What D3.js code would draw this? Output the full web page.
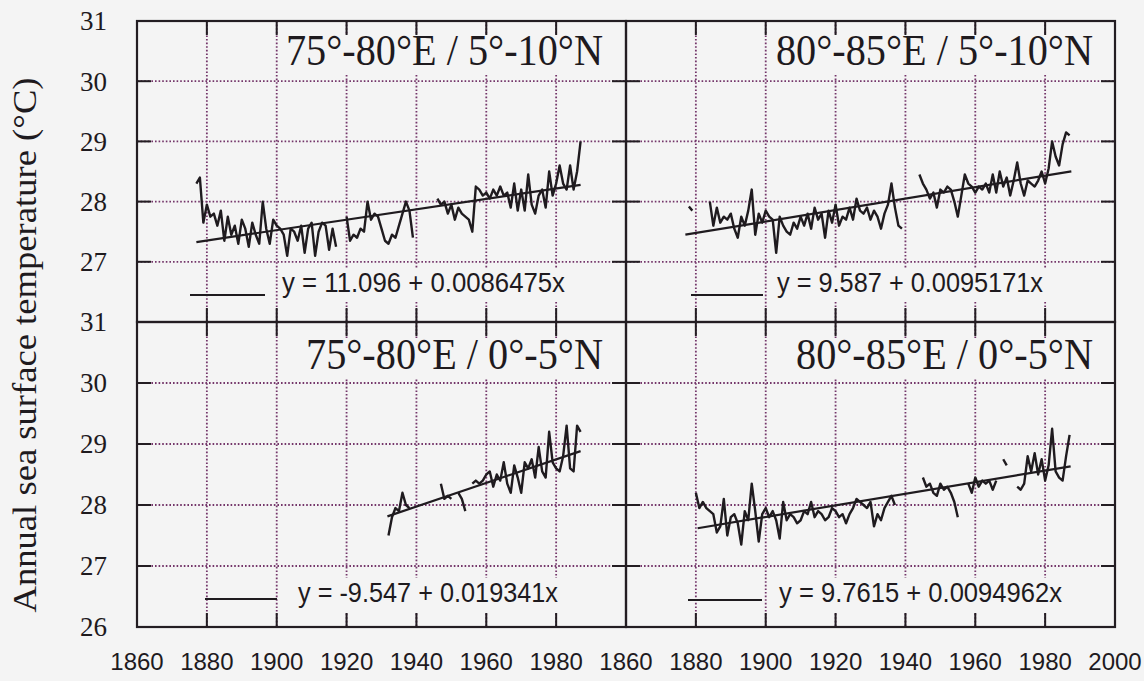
<!DOCTYPE html>
<html>
<head>
<meta charset="utf-8">
<script src="https://cdn.jsdelivr.net/npm/d3@7"></script>
<style>
  body { margin: 0; background: #f4f4f4; }
  svg { display: block; }
  .grid line { stroke: #74366a; stroke-width: 1.8; stroke-dasharray: 1.6,2; }
  .frame { fill: none; stroke: #231d22; stroke-width: 2.2; }
  .tick { stroke: #231d22; stroke-width: 2; }
  .sst { fill: none; stroke: #1f1b1f; stroke-width: 2.4; stroke-linejoin: round; }
  .fit { stroke: #1f1b1f; stroke-width: 2.2; }
</style>
</head>
<body>
<script>
var W = 1144, H = 681;
var bg = "#f4f4f4";

// tick labels
var yTicks = [26, 27, 28, 29, 30, 31];
var xTicksLeft = [1860, 1880, 1900, 1920, 1940, 1960, 1980];
var xTicksRight = [1860, 1880, 1900, 1920, 1940, 1960, 1980, 2000];
var gridYears = [1880, 1900, 1920, 1940, 1960, 1980];
var gridTemps = [27, 28, 29, 30];

var titles = ["75°-80°E / 5°-10°N", "80°-85°E / 5°-10°N", "75°-80°E / 0°-5°N", "80°-85°E / 0°-5°N"];
var equations = ["y = 11.096 + 0.0086475x", "y = 9.587 + 0.0095171x", "y = -9.547 + 0.019341x", "y = 9.7615 + 0.0094962x"];
var intercepts = [11.096, 9.587, -9.547, 9.7615];
var slopes = [0.0086475, 0.0095171, 0.019341, 0.0094962];
var fitSpans = [[1877, 1987], [1877, 1987.5], [1931.7, 1987], [1880.5, 1987.3]];

// 75-80E / 5-10N, 1877-1987
var yearsTL = d3.range(1877, 1988);
var sstTL = [28.30, 28.40, 27.65, 27.95, 27.75, 27.80, 27.60, 27.85, 27.35, 27.75,
  27.45, 27.60, 27.30, 27.70, 27.55, 27.25, 27.65, 27.45, 27.30, 28.00,
  27.55, 27.30, 27.70, 27.60, 27.55, 27.45, 27.10, 27.55, 27.50, 27.35,
  27.60, 27.15, 27.55, 27.65, 27.10, 27.50, 27.65, 27.60, 27.20, 27.55,
  27.25, null, null, 27.75, 27.35, 27.45, 27.40, 27.55, 27.50, 28.00,
  27.70, 27.80, 27.75, 27.55, 27.35, 27.30, 27.45, 27.40, 27.60, 27.80,
  28.00, 27.85, 27.40, null, null, null, null, null, null, 28.05,
  27.95, 28.00, 27.80, 27.95, 27.70, 27.90, 27.80, 27.75, 27.70, 27.50,
  28.25, 28.20, 28.10, 28.15, 28.05, 28.20, 28.10, 28.25, 28.10, 28.15,
  27.90, 28.30, 27.85, 28.20, 27.85, 28.45, 27.95, 27.80, 28.10, 28.20,
  27.90, 28.50, 28.10, 28.30, 28.60, 28.30, 28.20, 28.60, 28.20, 28.50,
  29.00];

// 80-85E / 5-10N, 1878-1987
var yearsTR = d3.range(1878, 1988);
var sstTR = [27.92, 27.85, null, null, null, null, 28.00, 27.60, 27.90, 27.65,
  27.75, 27.70, 27.80, 27.55, 27.40, 27.75, 27.60, 27.85, 28.20, 27.45,
  27.80, 27.65, 27.85, 27.75, 27.70, 27.15, 27.75, 27.60, 27.50, 27.45,
  27.65, 27.55, 27.75, 27.60, 27.80, 27.55, 27.90, 27.70, 27.80, 27.40,
  27.85, 27.65, 27.95, 27.60, 27.75, 27.70, 27.90, 27.70, 28.05, 27.85,
  27.80, 27.90, 27.70, 27.85, 27.75, 27.55, 27.80, 27.95, 28.30, 27.90,
  27.60, 27.55, null, null, null, null, 28.45, 28.30, 28.20, 28.05,
  28.15, 27.90, 28.20, 28.15, 28.25, 28.20, 28.00, 27.75, 28.10, 28.45,
  28.30, 28.25, 28.15, 28.25, 28.20, 28.30, 28.15, 28.45, 28.15, 28.50,
  28.25, 28.40, 28.10, 28.35, 28.65, 28.30, 28.10, 28.35, 28.30, 28.25,
  28.35, 28.50, 28.30, 28.55, 29.00, 28.75, 28.60, 28.95, 29.15, 29.10];

// 75-80E / 0-5N, 1932-1987
var yearsBL = d3.range(1932, 1988);
var sstBL = [27.50, 27.80, 27.95, 27.90, 28.20, 28.00, 27.95, null, null, null,
  null, null, null, null, null, 28.35, 28.10, 28.15, 28.10, null,
  28.20, 28.10, 27.90, null, 28.35, 28.40, 28.35, 28.40, 28.50, 28.55,
  28.30, 28.50, 28.40, 28.70, 28.35, 28.20, 28.65, 28.45, 28.20, 28.70,
  28.60, 28.75, 28.45, 28.95, 28.55, 28.45, 29.20, 28.70, 28.60, 28.55,
  28.80, 29.30, 28.60, 28.55, 29.30, 29.20];

// 80-85E / 0-5N, 1880-1987
var yearsBR = d3.range(1880, 1988);
var sstBR = [28.20, 27.95, 28.05, 27.95, 27.90, 27.85, 27.55, 27.65, 28.10, 27.50,
  27.80, 27.85, 27.70, 27.35, 27.90, 27.75, 28.35, 27.90, 27.40, 27.85,
  27.95, 27.80, 27.90, 27.75, 27.45, 28.05, 27.75, 27.85, 27.80, 27.70,
  27.75, 27.90, 27.85, 28.05, 27.80, 27.90, 27.85, 27.75, 27.80, 27.95,
  27.90, 27.80, 27.85, 27.70, 27.85, 27.95, 28.10, 28.05, 28.00, 27.95,
  28.05, 27.65, 27.85, 27.75, 27.95, 28.05, 28.15, 28.00, null, null,
  null, null, null, null, null, 28.45, 28.30, 28.35, 28.20, 28.15,
  28.35, 28.25, 28.30, 28.20, 28.05, 27.80, null, null, 28.35, 28.20,
  28.45, 28.30, 28.40, 28.35, 28.40, 28.25, 28.40, null, 28.75, 28.65,
  null, null, 28.30, 28.25, 28.35, 28.80, 28.55, 28.85, 28.50, 28.75,
  28.40, 28.65, 29.25, 28.55, 28.45, 28.40, 28.80, 29.15];

var seriesYears = [yearsTL, yearsTR, yearsBL, yearsBR];
var seriesSST = [sstTL, sstTR, sstBL, sstBR];

// layout
var colX = [[137, 626], [626, 1115]];
var rowY = [[21, 322], [322, 627]];
var titleEnd = [[603, 65], [1093, 65], [603, 369], [1093, 369]];
var eqPos = [[282, 292, 283], [777, 292, 266], [298, 602, 260], [779, 602, 283]];
var legendSeg = [[190, 265, 295], [691, 763, 295], [205, 277, 599], [688, 762, 600]];
var squeeze = 0.915;

var svg = d3.select("body").append("svg")
  .attr("width", W).attr("height", H)
  .style("background", bg);

svg.append("rect").attr("width", W).attr("height", H).attr("fill", bg);

var panels = d3.range(4).map(function(i) {
  return {
    i: i,
    col: i % 2,
    row: Math.floor(i / 2),
    title: titles[i],
    eq: equations[i],
    a: intercepts[i],
    b: slopes[i],
    span: fitSpans[i],
    data: seriesYears[i].map(function(yr, k) { return {year: yr, t: seriesSST[i][k]}; })
  };
});

panels.forEach(function(p) {
  var x = d3.scaleLinear().domain([1860, 2000]).range(colX[p.col]);
  var y = d3.scaleLinear().domain([26, 31]).range([rowY[p.row][1], rowY[p.row][0]]);
  var g = svg.append("g").attr("class", "panel");

  // dotted grid
  var grid = g.append("g").attr("class", "grid");
  grid.selectAll(".gx").data(gridYears).enter().append("line")
    .attr("x1", function(d) { return x(d); }).attr("x2", function(d) { return x(d); })
    .attr("y1", y(31)).attr("y2", y(26));
  grid.selectAll(".gy").data(gridTemps).enter().append("line")
    .attr("x1", x(1860)).attr("x2", x(2000))
    .attr("y1", function(d) { return y(d); }).attr("y2", function(d) { return y(d); });

  // title, right aligned, on an opaque box
  var te = titleEnd[p.i];
  var tbox = g.append("rect").attr("fill", bg);
  var tt = g.append("text")
    .attr("x", te[0]).attr("y", te[1])
    .attr("text-anchor", "end")
    .attr("font-family", "'Liberation Serif', 'Times New Roman', serif")
    .attr("font-size", 44)
    .attr("fill", "#1e1a1e")
    .text(p.title);
  var tw = tt.node().getComputedTextLength() * squeeze;
  tt.attr("textLength", tw).attr("lengthAdjust", "spacingAndGlyphs");
  tbox.attr("x", te[0] - tw - 4).attr("y", te[1] - 31).attr("width", tw + 8).attr("height", 40);

  // equation with opaque box
  var ep = eqPos[p.i];
  g.append("rect").attr("x", ep[0] - 4).attr("y", ep[1] - 24).attr("width", ep[2] + 8).attr("height", 34).attr("fill", bg);
  g.append("text")
    .attr("x", ep[0]).attr("y", ep[1])
    .attr("font-family", "'Liberation Sans', Arial, sans-serif")
    .attr("font-size", 28)
    .attr("fill", "#1e1a1e")
    .attr("textLength", ep[2]).attr("lengthAdjust", "spacingAndGlyphs")
    .text(p.eq);
  var ls = legendSeg[p.i];
  g.append("line").attr("class", "fit").attr("x1", ls[0]).attr("x2", ls[1]).attr("y1", ls[2]).attr("y2", ls[2]);

  // inward ticks on every side
  var tl = 14;
  gridYears.forEach(function(d) {
    g.append("line").attr("class", "tick").attr("x1", x(d)).attr("x2", x(d)).attr("y1", y(26)).attr("y2", y(26) - tl);
    g.append("line").attr("class", "tick").attr("x1", x(d)).attr("x2", x(d)).attr("y1", y(31)).attr("y2", y(31) + tl);
  });
  gridTemps.forEach(function(d) {
    g.append("line").attr("class", "tick").attr("x1", x(1860)).attr("x2", x(1860) + tl).attr("y1", y(d)).attr("y2", y(d));
    g.append("line").attr("class", "tick").attr("x1", x(2000)).attr("x2", x(2000) - tl).attr("y1", y(d)).attr("y2", y(d));
  });

  // annual series
  var line = d3.line()
    .defined(function(d) { return d.t != null; })
    .x(function(d) { return x(d.year); })
    .y(function(d) { return y(d.t); });
  g.append("path").attr("class", "sst").attr("d", line(p.data));

  // linear fit
  g.append("line").attr("class", "fit")
    .attr("x1", x(p.span[0])).attr("y1", y(p.a + p.b * p.span[0]))
    .attr("x2", x(p.span[1])).attr("y2", y(p.a + p.b * p.span[1]));

  g.append("rect").attr("class", "frame")
    .attr("x", x(1860)).attr("y", y(31))
    .attr("width", x(2000) - x(1860)).attr("height", y(26) - y(31));

  // bottom year labels
  if (p.row === 1) {
    var xt = p.col === 0 ? xTicksLeft : xTicksRight;
    g.selectAll(".xl").data(xt).enter().append("text")
      .attr("x", function(d) { return x(d); })
      .attr("y", 670)
      .attr("text-anchor", "middle")
      .attr("font-family", "'Liberation Sans', Arial, sans-serif")
      .attr("font-size", 24)
      .attr("fill", "#1e1a1e")
      .text(function(d) { return d; });
  }
  // left temperature labels
  if (p.col === 0) {
    var yt = p.row === 0 ? yTicks.slice(1) : yTicks;
    g.selectAll(".yl").data(yt).enter().append("text")
      .attr("x", 107)
      .attr("y", function(d) { return y(d); })
      .attr("dy", "0.35em")
      .attr("text-anchor", "end")
      .attr("font-family", "'Liberation Serif', 'Times New Roman', serif")
      .attr("font-size", 27)
      .attr("fill", "#1e1a1e")
      .text(function(d) { return d; });
  }
});

svg.append("text")
  .attr("transform", "translate(36,345) rotate(-90)")
  .attr("text-anchor", "middle")
  .attr("font-family", "'Liberation Serif', 'Times New Roman', serif")
  .attr("font-size", 34)
  .attr("fill", "#1e1a1e")
  .attr("textLength", 535).attr("lengthAdjust", "spacingAndGlyphs")
  .text("Annual sea surface temperature (°C)");
</script>
</body>
</html>
